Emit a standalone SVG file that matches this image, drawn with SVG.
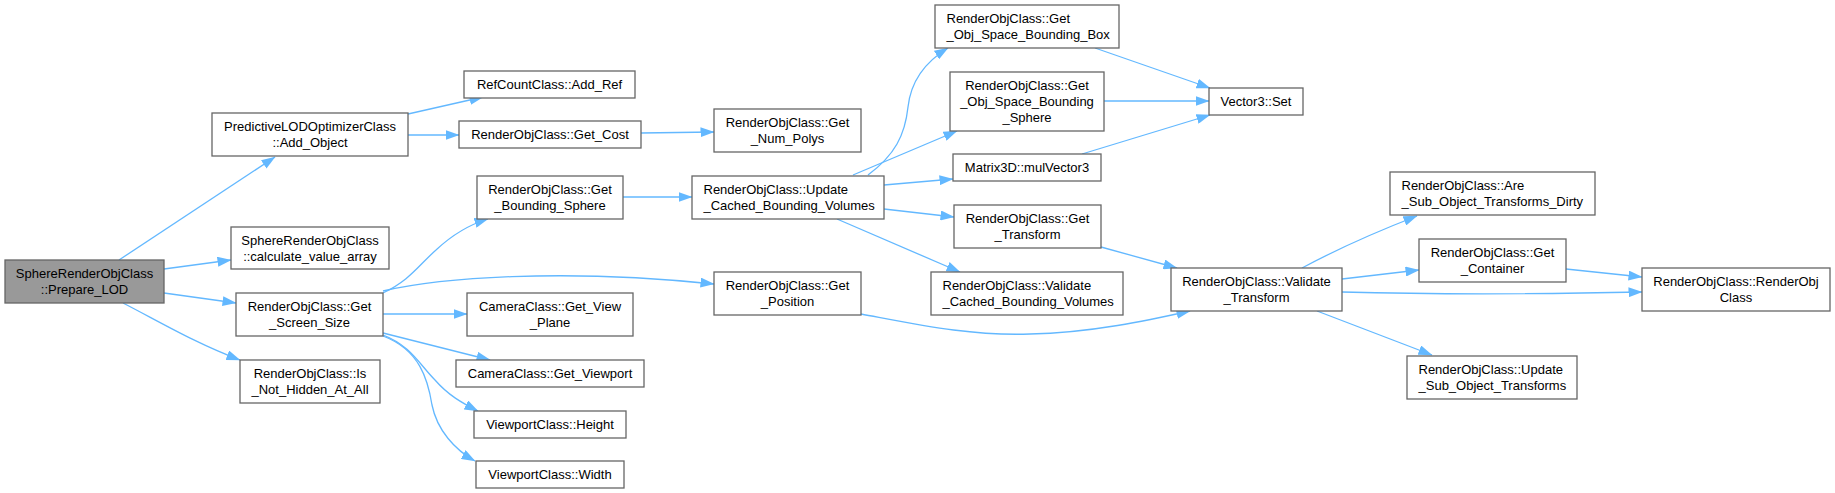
<svg xmlns="http://www.w3.org/2000/svg" width="1835" height="493" viewBox="0 0 1835 493">
<style>
.n rect{fill:#fff;stroke:#666;stroke-width:1.3}
.n.hl rect{fill:#999}
.n text{font-family:"Liberation Sans",Arial,sans-serif;font-size:13px;fill:#000;text-anchor:middle}
.n text.l{text-anchor:start}
.e path{fill:none;stroke:#63b8ff;stroke-width:1.3}
</style>
<defs>
<marker id="a" markerUnits="userSpaceOnUse" markerWidth="14" markerHeight="10" refX="13.5" refY="5" orient="auto">
<path d="M0,0 L14,5 L0,10 z" fill="#63b8ff"/>
</marker>
</defs>
<rect width="1835" height="493" fill="#fff"/>
<g class="e" marker-end="url(#a)">
<path d="M119,260 L275,157" marker-end="url(#a)"/>
<path d="M164,269 L231,260" marker-end="url(#a)"/>
<path d="M164,293 L236,303" marker-end="url(#a)"/>
<path d="M123,303 C160,322 195,343 240,360" marker-end="url(#a)"/>
<path d="M408,114 L483,97" marker-end="url(#a)"/>
<path d="M408,135 L459,135" marker-end="url(#a)"/>
<path d="M641,133 L714,132" marker-end="url(#a)"/>
<path d="M383,293 C410,280 418,266 436,250 C452,235 468,225 488,219" marker-end="url(#a)"/>
<path d="M383,291 C440,278 560,268 714,284" marker-end="url(#a)"/>
<path d="M383,314 L467,314" marker-end="url(#a)"/>
<path d="M383,333 L490,360" marker-end="url(#a)"/>
<path d="M383,335 C410,345 420,365 435,380 C448,395 462,403 478,411" marker-end="url(#a)"/>
<path d="M383,336 C420,350 428,380 432,405 C437,430 455,450 475,461" marker-end="url(#a)"/>
<path d="M623,197 L692,197" marker-end="url(#a)"/>
<path d="M868,175 C895,155 905,135 908,107 C911,80 925,62 948,48" marker-end="url(#a)"/>
<path d="M853,175 L957,131" marker-end="url(#a)"/>
<path d="M884,185 L953,179" marker-end="url(#a)"/>
<path d="M884,209 L954,217" marker-end="url(#a)"/>
<path d="M837,219 L960,272" marker-end="url(#a)"/>
<path d="M1095,48 L1210,88" marker-end="url(#a)"/>
<path d="M1104,101 L1209,101" marker-end="url(#a)"/>
<path d="M1082,154 L1210,115" marker-end="url(#a)"/>
<path d="M1101,247 L1177,268" marker-end="url(#a)"/>
<path d="M861,314 C920,325 970,336 1030,334 C1090,333 1150,320 1190,311" marker-end="url(#a)"/>
<path d="M1302,268 C1330,253 1360,238 1417,216" marker-end="url(#a)"/>
<path d="M1342,279 L1419,270" marker-end="url(#a)"/>
<path d="M1342,292 C1450,295 1550,294 1642,292" marker-end="url(#a)"/>
<path d="M1317,311 L1432,355" marker-end="url(#a)"/>
<path d="M1566,269 L1642,277" marker-end="url(#a)"/>
</g>
<g id="n_prepare" class="n hl"><rect x="5" y="260" width="159" height="43"/><text x="84.5" y="278">SphereRenderObjClass</text><text x="84.5" y="294">::Prepare_LOD</text></g>
<g id="n_predictive" class="n"><rect x="212" y="113" width="196" height="43"/><text x="310" y="131">PredictiveLODOptimizerClass</text><text x="310" y="147">::Add_Object</text></g>
<g id="n_calc" class="n"><rect x="231" y="227" width="158" height="42"/><text x="310" y="244.5">SphereRenderObjClass</text><text x="310" y="260.5">::calculate_value_array</text></g>
<g id="n_screen" class="n"><rect x="236" y="293" width="147" height="43"/><text x="309.5" y="311">RenderObjClass::Get</text><text x="309.5" y="327">_Screen_Size</text></g>
<g id="n_hidden" class="n"><rect x="240" y="360" width="140" height="43"/><text x="310" y="378">RenderObjClass::Is</text><text x="310" y="394">_Not_Hidden_At_All</text></g>
<g id="n_addref" class="n"><rect x="464" y="71" width="171" height="27"/><text x="549.5" y="89">RefCountClass::Add_Ref</text></g>
<g id="n_cost" class="n"><rect x="459" y="121" width="182" height="27"/><text x="550" y="139">RenderObjClass::Get_Cost</text></g>
<g id="n_numpolys" class="n"><rect x="714" y="109" width="147" height="43"/><text x="787.5" y="127">RenderObjClass::Get</text><text x="787.5" y="143">_Num_Polys</text></g>
<g id="n_bsphere" class="n"><rect x="477" y="176" width="146" height="43"/><text x="550" y="194">RenderObjClass::Get</text><text x="550" y="210">_Bounding_Sphere</text></g>
<g id="n_update" class="n"><rect x="692" y="176" width="192" height="43"/><text class="l" x="703.5" y="194">RenderObjClass::Update</text><text class="l" x="703.5" y="210">_Cached_Bounding_Volumes</text></g>
<g id="n_viewplane" class="n"><rect x="467" y="293" width="166" height="43"/><text x="550" y="311">CameraClass::Get_View</text><text x="550" y="327">_Plane</text></g>
<g id="n_viewport" class="n"><rect x="456" y="360" width="188" height="27"/><text x="550" y="378">CameraClass::Get_Viewport</text></g>
<g id="n_height" class="n"><rect x="474" y="411" width="152" height="27"/><text x="550" y="429">ViewportClass::Height</text></g>
<g id="n_width" class="n"><rect x="476" y="461" width="148" height="27"/><text x="550" y="479">ViewportClass::Width</text></g>
<g id="n_position" class="n"><rect x="714" y="272" width="147" height="43"/><text x="787.5" y="290">RenderObjClass::Get</text><text x="787.5" y="306">_Position</text></g>
<g id="n_bbox" class="n"><rect x="935" y="5" width="184" height="43"/><text class="l" x="946.5" y="23">RenderObjClass::Get</text><text class="l" x="946.5" y="39">_Obj_Space_Bounding_Box</text></g>
<g id="n_bsphere2" class="n"><rect x="950" y="72" width="154" height="59"/><text x="1027" y="90">RenderObjClass::Get</text><text x="1027" y="106">_Obj_Space_Bounding</text><text x="1027" y="122">_Sphere</text></g>
<g id="n_mulvec" class="n"><rect x="953" y="154" width="148" height="27"/><text x="1027" y="172">Matrix3D::mulVector3</text></g>
<g id="n_gettransform" class="n"><rect x="954" y="205" width="147" height="43"/><text x="1027.5" y="223">RenderObjClass::Get</text><text x="1027.5" y="239">_Transform</text></g>
<g id="n_validcached" class="n"><rect x="931" y="272" width="192" height="43"/><text class="l" x="942.5" y="290">RenderObjClass::Validate</text><text class="l" x="942.5" y="306">_Cached_Bounding_Volumes</text></g>
<g id="n_vset" class="n"><rect x="1209" y="88" width="94" height="27"/><text x="1256" y="106">Vector3::Set</text></g>
<g id="n_validtransform" class="n"><rect x="1171" y="268" width="171" height="43"/><text x="1256.5" y="286">RenderObjClass::Validate</text><text x="1256.5" y="302">_Transform</text></g>
<g id="n_are" class="n"><rect x="1390" y="172" width="205" height="43"/><text class="l" x="1401.5" y="190">RenderObjClass::Are</text><text class="l" x="1401.5" y="206">_Sub_Object_Transforms_Dirty</text></g>
<g id="n_container" class="n"><rect x="1419" y="239" width="147" height="43"/><text x="1492.5" y="257">RenderObjClass::Get</text><text x="1492.5" y="273">_Container</text></g>
<g id="n_updatesub" class="n"><rect x="1407" y="356" width="170" height="43"/><text class="l" x="1418.5" y="374">RenderObjClass::Update</text><text class="l" x="1418.5" y="390">_Sub_Object_Transforms</text></g>
<g id="n_ctor" class="n"><rect x="1642" y="268" width="188" height="43"/><text x="1736" y="286">RenderObjClass::RenderObj</text><text x="1736" y="302">Class</text></g>
</svg>
